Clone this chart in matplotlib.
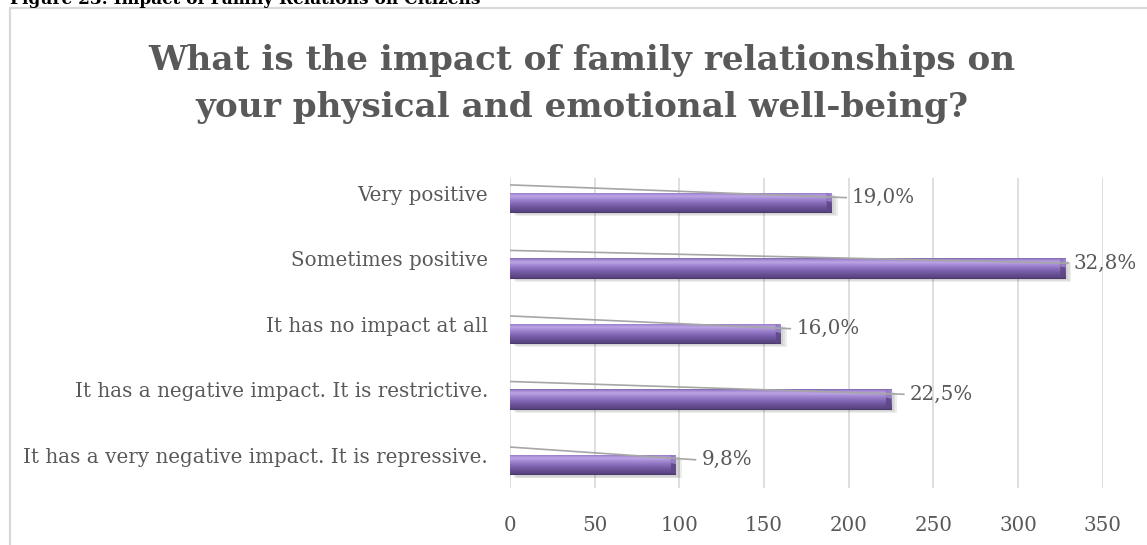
import matplotlib
matplotlib.use("Agg")
import numpy as np
import matplotlib.pyplot as plt
from matplotlib.patches import Rectangle, Polygon
from matplotlib.colors import LinearSegmentedColormap

# ---- data ----
categories = ["It has a very negative impact. It is repressive.",
              "It has a negative impact. It is restrictive.",
              "It has no impact at all",
              "Sometimes positive",
              "Very positive"]
counts = [98, 225, 160, 328, 190]
pct_labels = ["9,8%", "22,5%", "16,0%", "32,8%", "19,0%"]
xticks = [0, 50, 100, 150, 200, 250, 300, 350]
title = "What is the impact of family relationships on\nyour physical and emotional well-being?"
caption = "Figure 23: Impact of Family Relations on Citizens"

W, H = 1147, 545
fig = plt.figure(figsize=(W / 100, H / 100), dpi=100)
fig.patch.set_facecolor("white")
serif = "DejaVu Serif"
txt = "#595959"

# chart border
fig.patches.append(Rectangle((10 / W, -0.02), 1.05, 1 - 8 / H + 0.02, transform=fig.transFigure,
                             fill=False, edgecolor="#d9d9d9", lw=1.6, zorder=0))

renderer = fig.canvas.get_renderer()

def fit(t, target_w):
    bb = t.get_window_extent(renderer)
    t.set_fontsize(t.get_fontsize() * target_w / bb.width)

cap = fig.text(10 / W, 1 - 4 / H, caption, ha="left", va="baseline", fontsize=12,
               family=serif, weight="bold", color="black")
fit(cap, 467)

t1, t2 = title.split("\n")
tt1 = fig.text(582 / W, 1 - 70 / H, t1, ha="center", va="baseline", fontsize=24,
               family=serif, weight="bold", color=txt)
fit(tt1, 870)
tt2 = fig.text(582 / W, 1 - 117 / H, t2, ha="center", va="baseline",
               fontsize=tt1.get_fontsize(), family=serif, weight="bold", color=txt)

ax = fig.add_axes([510 / W, 1 - 488 / H, (1102.7 - 510) / W, (488 - 178) / H])
XLIM, YLIM = (0, 350), (-0.35, 4.38)
ax.set_facecolor("none")
for s in ax.spines.values():
    s.set_visible(False)
ax.xaxis.grid(True, color="#d9d9d9", lw=1.2, zorder=0)
ax.set_axisbelow(True)
ax.set_xticks(xticks)
ax.tick_params(length=0)

probe = fig.text(0, 0, categories[0], fontsize=12, family=serif)
fit(probe, 460)
lab_fs = probe.get_fontsize()
probe.remove()

ax.set_xticklabels([str(v) for v in xticks], fontsize=lab_fs, family=serif, color=txt)
ax.tick_params(axis="x", pad=20)
ax.set_yticks([])
pos = list(range(len(categories)))
for i, c in zip(pos, categories):
    ax.annotate(c, xy=(0, i + 0.12), xycoords="data", xytext=(-22, 0),
                textcoords="offset pixels", ha="right", va="center",
                fontsize=lab_fs, family=serif, color=txt)

h = 0.31
# soft shadow
for k, a in enumerate([0.05, 0.06, 0.07]):
    ax.barh([p - 0.02 - 0.015 * k for p in pos], counts, height=h, left=1.5 + k,
            color="#000000", alpha=a, lw=0, zorder=2)

bars = ax.barh(pos, counts, height=h, color="#7d62ab", lw=0, zorder=3)

# vertical gradient (bottom -> top)
stops = [(0.0, "#4a3868"), (0.08, "#5a4582"), (0.3, "#7157a0"), (0.5, "#8a6fbd"),
         (0.66, "#a287d2"), (0.8, "#bca5e5"), (0.92, "#a68bd6"), (1.0, "#7f67aa")]
cmap = LinearSegmentedColormap.from_list("bev", stops)
grad = np.linspace(0, 1, 64).reshape(-1, 1)
for b in bars:
    x0, y0, bw, bh = b.get_x(), b.get_y(), b.get_width(), b.get_height()
    im = ax.imshow(grad, extent=[x0, x0 + bw, y0, y0 + bh], origin="lower",
                   aspect="auto", cmap=cmap, zorder=4, interpolation="bilinear")
    im.set_clip_path(b)
    # bevelled right end
    e = 3.0
    ax.add_patch(Polygon([(x0 + bw - e, y0 + bh), (x0 + bw, y0 + bh - 0.05),
                          (x0 + bw, y0 + 0.05), (x0 + bw - e, y0)],
                         closed=True, facecolor="#5d4787", alpha=0.85, lw=0, zorder=5))
    ax.add_patch(Polygon([(x0 + bw - e, y0 + bh), (x0 + bw, y0 + bh - 0.05),
                          (x0 + bw, y0 + bh * 0.55), (x0 + bw - e, y0 + bh * 0.6)],
                         closed=True, facecolor="#9c84c9", alpha=0.9, lw=0, zorder=5))

ax.set_xlim(*XLIM)
ax.set_ylim(*YLIM)

label_off = [15, 11, 9, 5, 12]
for i, v, lab, off in zip(pos, counts, pct_labels, label_off):
    lx = v + off
    ax.plot([0, lx - 3], [i + 0.275, i + 0.08], color="#a6a6a6", lw=1.2, zorder=6,
            solid_capstyle="butt")
    ax.text(lx, i + 0.08, lab, ha="left", va="center", fontsize=lab_fs, family=serif,
            color=txt, zorder=7)

fig.savefig("out.png", dpi=100, facecolor="white")
